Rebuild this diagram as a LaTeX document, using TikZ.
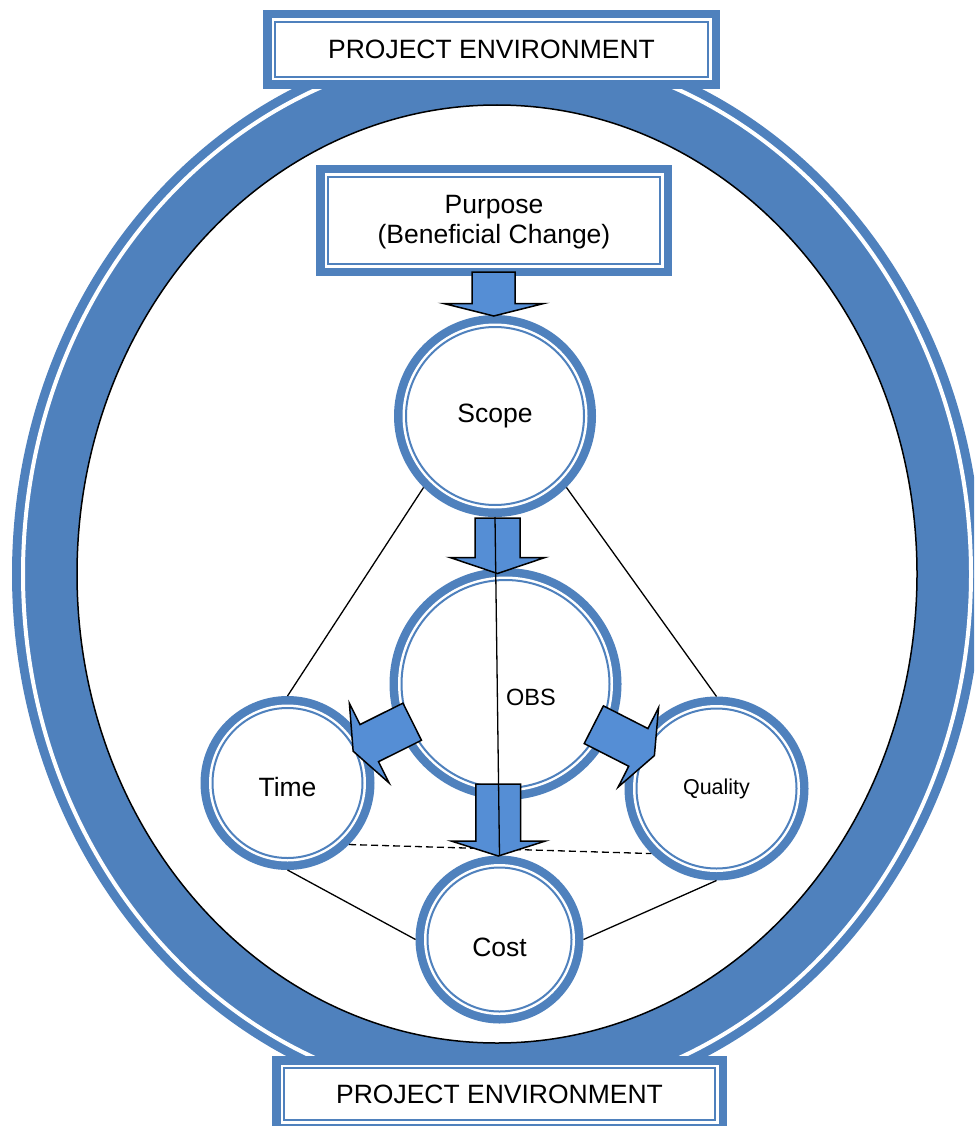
\documentclass[tikz,border=0pt]{standalone}
\usepackage{fontspec}
\setmainfont{Liberation Sans}
\definecolor{ringblue}{RGB}{79,129,189}
\definecolor{arrowblue}{RGB}{85,142,213}

% block arrow: back-centre x, y, heading (degrees, y pointing down),
% shaft length, shaft width, head length, head width
\newcommand\blockarrow[7]{%
  \draw[blockarr, shift={(#1,#2)}, rotate=-#3]
    (0,{-#5/2}) -- (#4,{-#5/2}) -- (#4,{-#7/2}) -- ({#4+#6},0)
    -- (#4,{#7/2}) -- (#4,{#5/2}) -- (0,{#5/2}) -- cycle;}

\begin{document}
\begin{tikzpicture}[x=1pt,y=-1pt,
  txt/.style={font=\fontsize{26.5}{30}\selectfont},
  ringcircle/.style={circle, inner sep=0pt, outer sep=0pt,
    minimum size={2*#1 pt}, fill=ringblue, txt,
    path picture={
      \fill[white] (path picture bounding box.center) circle[radius={#1 pt-8.5pt}];
      \draw[ringblue, line width=2pt] (path picture bounding box.center) circle[radius={#1 pt-12pt}];
    }},
  envbox/.style={rectangle, inner sep=0pt, outer sep=0pt, fill=ringblue, txt,
    path picture={
      \fill[white] ([shift={(8.5pt,-8.5pt)}]path picture bounding box.north west)
        rectangle ([shift={(-8.5pt,8.5pt)}]path picture bounding box.south east);
      \draw[ringblue, line width=2.2pt] ([shift={(11.8pt,-11.8pt)}]path picture bounding box.north west)
        rectangle ([shift={(-11.8pt,11.8pt)}]path picture bounding box.south east);
    }},
  blockarr/.style={fill=arrowblue, draw=black, line width=1.5pt, line join=miter},
  link/.style={draw=black, line width=1.3pt},
  dashlink/.style={link, dash pattern=on 7pt off 4pt}
]
\clip (0,0) rectangle (974,1126);
\useasboundingbox (0,0) rectangle (974,1126);
\fill[white] (0,0) rectangle (974,1126);

% environment ring
\fill[ringblue] (497,574) ellipse[x radius=485pt, y radius=535pt];
\draw[white, line width=4pt] (497,574) ellipse[x radius=474pt, y radius=524pt];
\filldraw[fill=white, draw=black, line width=1.5pt] (497,574) ellipse[x radius=420pt, y radius=469pt];

% boxes
\node[envbox, minimum width=457pt, minimum height=79pt] (envtop) at (491.5,49.5) {PROJECT ENVIRONMENT};
\node[envbox, minimum width=455pt, minimum height=76pt] (envbottom) at (499.5,1094) {PROJECT ENVIRONMENT};
\node[envbox, minimum width=356pt, minimum height=111pt, align=center] (purpose) at (494,220.5)
  {\raisebox{-8pt}[0pt][0pt]{Purpose}\\\raisebox{-8pt}[0pt][0pt]{(Beneficial Change)}};

% circles
\node[ringcircle=101] (scope) at (495,416) {Scope};
\node[ringcircle=116] (obs) at (505.5,684) {};
\node[ringcircle=87, text height=26.6pt, text depth=0pt] (time) at (287.5,783) {Time};
\node[ringcircle=92, font=\fontsize{21.5}{26}\selectfont] (quality) at (716.5,788.5) {Quality};
\node[ringcircle=84, text height=33pt, text depth=0pt] (cost) at (499.5,939.5) {Cost};
\node[font=\fontsize{23.5}{28}\selectfont, anchor=base] (obstext) at (531,705.7) {OBS};

% links between the circles
\draw[link] (scope.south west) -- (time.north);
\draw[link] (scope.south east) -- (quality.north);
\draw[link] (time.south) -- (cost.west);
\draw[link] (cost.east) -- (quality.south);
\draw[dashlink] (time.south east) -- (quality.south west);

% block arrows
\blockarrow{493.7}{272}{90}{31.5}{43}{12.5}{100}
\blockarrow{497.5}{518}{90}{39.5}{45}{16}{95}
\blockarrow{498.3}{784}{90}{57}{44.7}{15}{94.3}
\blockarrow{412.2}{721.7}{153.5}{48}{41.5}{18}{89}
\blockarrow{593.8}{724.7}{27}{50}{42.3}{18}{89}

\draw[link] (scope.south) -- (cost.north);
\end{tikzpicture}
\end{document}
